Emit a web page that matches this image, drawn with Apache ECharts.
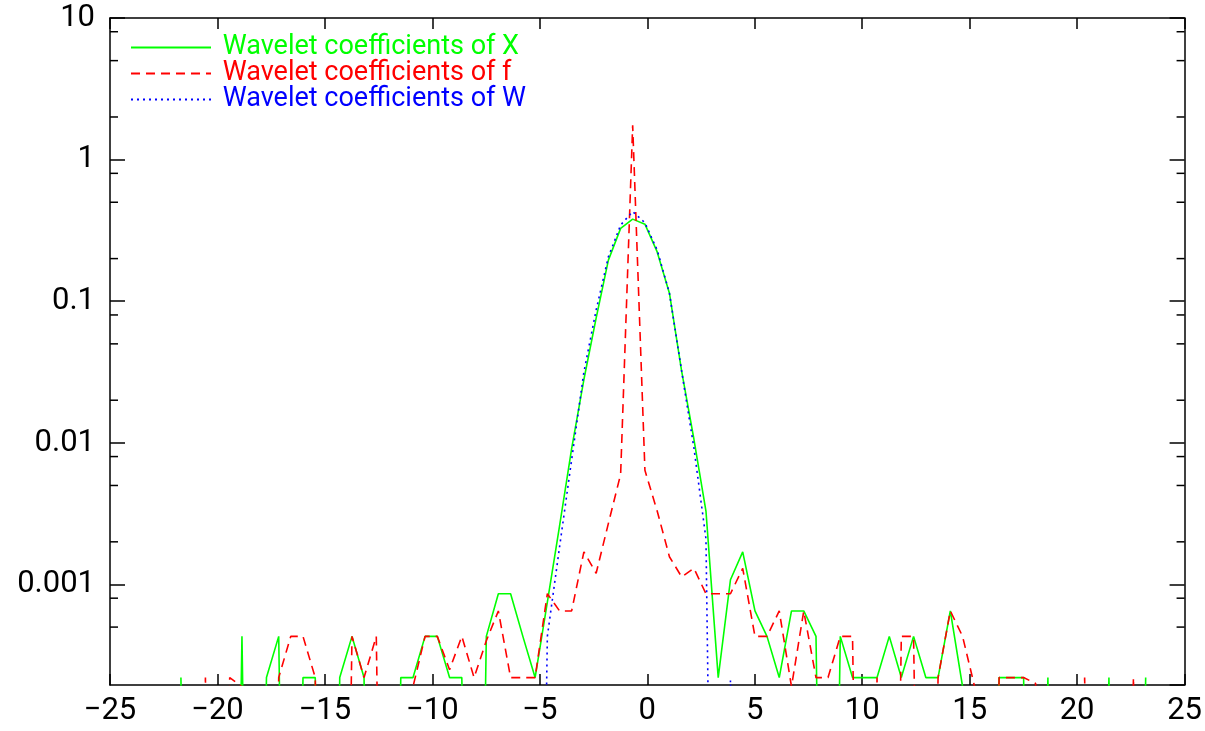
<!DOCTYPE html>
<html>
<head>
<meta charset="utf-8">
<script src="https://cdn.jsdelivr.net/npm/echarts@6/dist/echarts.min.js"></script>
<style>
  html, body { margin: 0; padding: 0; background: #fff; }
</style>
</head>
<body>
<div id="container" style="width: 1205px;height:731px;"></div>
<script>
  // sample positions (x) shared by the three curves
  var xs = [
    -21.70, -21.13, -20.56, -20.00, -19.43, -18.86, -18.29, -17.72, -17.15, -16.59,
    -16.02, -15.45, -14.88, -14.31, -13.74, -13.18, -12.61, -12.04, -11.47, -10.90,
    -10.34, -9.77, -9.20, -8.63, -8.06, -7.49, -6.93, -6.36, -5.79, -5.22,
    -4.65, -4.08, -3.52, -2.95, -2.38, -1.81, -1.24, -0.68, -0.11, 0.46,
    1.03, 1.60, 2.17, 2.73, 3.30, 3.87, 4.44, 5.01, 5.57, 6.14,
    6.71, 7.28, 7.85, 8.41, 8.98, 9.55, 10.12, 10.69, 11.26, 11.82,
    12.39, 12.96, 13.53, 14.10, 14.67, 15.23, 15.80, 16.37, 16.94, 17.51,
    18.07, 18.64, 19.21, 19.78, 20.35, 20.92, 21.48, 22.05, 22.62, 23.19
  ];

  // Wavelet coefficients of X (green, solid)
  var coefX = [
    0.00022, 0, 0, 0, 0, 0.00043, 0, 0.00022, 0.00043, 0,
    0.00022, 0.00022, 0, 0.00022, 0.00043, 0.00022, 0, 0, 0.00022, 0.00022,
    0.00043, 0.00043, 0.00022, 0.00022, 0, 0.00043, 0.00086, 0.00086, 0.00043, 0.00022,
    0.00075, 0.0026, 0.0091, 0.028, 0.076, 0.195, 0.327, 0.38, 0.35, 0.223,
    0.114, 0.032, 0.0106, 0.0033, 0.00022, 0.00108, 0.0017, 0.00065, 0.00043, 0.00022,
    0.00065, 0.00065, 0.00043, 0, 0.00043, 0.00022, 0.00022, 0.00022, 0.00043, 0.00022,
    0.00043, 0.00022, 0.00022, 0.00065, 0.00019, 0, 0, 0.00022, 0.00022, 0.00022,
    0, 0.00022, 0, 0, 0, 0, 0.00022, 0, 0, 0.00022
  ];

  // Wavelet coefficients of f (red, dashed)
  var coefF = [
    0, 0, 0.00022, 0, 0.00022, 0.00019, 0, 0, 0.00022, 0.00043,
    0.00043, 0.00022, 0, 0, 0.00043, 0.00022, 0.00043, 0, 0, 0.00019,
    0.00043, 0.00043, 0.00025, 0.00043, 0.00022, 0.0004, 0.00065, 0.00022, 0.00022, 0.00022,
    0.00086, 0.00065, 0.00065, 0.0017, 0.0012, 0.0027, 0.006, 1.75, 0.0064, 0.0033,
    0.00157, 0.00113, 0.0013, 0.00086, 0.00086, 0.00086, 0.0013, 0.00043, 0.00043, 0.00065,
    0.00019, 0.00065, 0.00022, 0.00022, 0.00043, 0.00043, 0, 0.00022, 0, 0.00043,
    0.00043, 0, 0.00022, 0.00065, 0.00043, 0.00019, 0, 0.00022, 0.00022, 0.00022,
    0.0002, 0, 0, 0, 0.00022, 0, 0, 0, 0.00022, 0
  ];

  // Wavelet coefficients of W (blue, dotted)
  var coefW = [
    0, 0, 0, 0, 0, 0, 0, 0, 0, 0,
    0, 0, 0, 0, 0, 0, 0, 0, 0, 0,
    0, 0, 0, 0, 0, 0, 0, 0, 0, 0,
    0.00043, 0.00185, 0.0076, 0.0316, 0.0866, 0.206, 0.345, 0.43, 0.358, 0.23,
    0.114, 0.032, 0.0092, 0.0021, 0, 0.00021, 0, 0, 0, 0,
    0, 0, 0, 0, 0, 0, 0, 0, 0, 0,
    0, 0, 0, 0, 0, 0, 0, 0, 0, 0,
    0, 0, 0, 0, 0, 0, 0, 0, 0, 0
  ];

  var seriesNames = ['Wavelet coefficients of X', 'Wavelet coefficients of f', 'Wavelet coefficients of W'];
  var seriesColors = ['#00ff00', '#ff0000', '#0000ff'];

  // small tick marks between decades on the log axis
  var minorTickValues = [8, 5, 2, 0.8, 0.5, 0.2, 0.08, 0.05, 0.02, 0.008, 0.005, 0.002, 0.0008, 0.0005];

  var FONT = 'Roboto, "Liberation Sans", Arial, sans-serif';
  // zero coefficients cannot sit on a log axis: push them far below the plot
  var FLOOR = 1e-9;

  function pairs(vals) {
    return xs.map(function (x, i) { return [x, vals[i] > 0 ? vals[i] : FLOOR]; });
  }

  var myChart = echarts.init(document.getElementById('container'));

  var axisLine = {show: true, onZero: false, lineStyle: {color: '#000', width: 1.5}};

  myChart.setOption({
    animation: false,
    backgroundColor: '#fff',
    grid: {left: 110, right: 18, top: 18, bottom: 46, containLabel: false},
    legend: {
      orient: 'vertical',
      left: 130,
      top: 34,
      padding: 0,
      itemWidth: 80,
      itemHeight: 14,
      itemGap: -1,
      itemStyle: {opacity: 0},
      formatter: ' {name}',
      data: seriesNames.map(function (n, i) {
        return {name: n, textStyle: {color: seriesColors[i]}};
      }),
      textStyle: {fontFamily: FONT, fontSize: 27, lineHeight: 26}
    },
    xAxis: [
      {
        type: 'value', min: -25, max: 25, interval: 5, position: 'bottom',
        axisLine: axisLine,
        axisTick: {inside: true, length: 11, lineStyle: {color: '#000', width: 1.5}},
        splitLine: {show: false},
        axisLabel: {
          color: '#000', fontFamily: FONT, fontSize: 31, margin: 11,
          formatter: function (v) { return String(v).replace('-', '\u2212'); }
        }
      },
      {
        type: 'value', min: -25, max: 25, interval: 5, position: 'top',
        axisLine: axisLine,
        axisTick: {inside: true, length: 11, lineStyle: {color: '#000', width: 1.5}},
        splitLine: {show: false},
        axisLabel: {show: false}
      }
    ],
    yAxis: [
      {
        type: 'log', logBase: 10, min: 0.000195, max: 10, position: 'left',
        axisLine: axisLine,
        axisTick: {inside: true, length: 15, lineStyle: {color: '#000', width: 1.5}},
        splitLine: {show: false},
        axisLabel: {
          color: '#000', fontFamily: FONT, fontSize: 31, margin: 15,
          showMinLabel: false,
          formatter: function (v) { return String(+v.toPrecision(3)); }
        }
      },
      {
        type: 'log', logBase: 10, min: 0.000195, max: 10, position: 'right',
        axisLine: axisLine,
        axisTick: {inside: true, length: 15, lineStyle: {color: '#000', width: 1.5}},
        splitLine: {show: false},
        axisLabel: {show: false}
      }
    ],
    series: seriesNames.map(function (n, i) {
      return {
        name: n,
        type: 'line',
        xAxisIndex: 0,
        yAxisIndex: 0,
        showSymbol: false,
        symbol: 'none',
        clip: true,
        color: seriesColors[i],
        lineStyle: {
          color: seriesColors[i],
          width: 1.6,
          type: i === 0 ? 'solid' : (i === 1 ? [9, 6] : [2, 4])
        },
        data: pairs([coefX, coefF, coefW][i])
      };
    }).concat([{
      name: 'minor ticks',
      type: 'custom',
      xAxisIndex: 0,
      yAxisIndex: 0,
      silent: true,
      data: minorTickValues,
      renderItem: function (params, api) {
        var y = api.value(0);
        var l = api.coord([-25, y]);
        var r = api.coord([25, y]);
        var style = {stroke: '#000', lineWidth: 1.5};
        return {
          type: 'group',
          children: [
            {type: 'line', shape: {x1: l[0], y1: l[1], x2: l[0] + 8, y2: l[1]}, style: style},
            {type: 'line', shape: {x1: r[0] - 8, y1: r[1], x2: r[0], y2: r[1]}, style: style}
          ]
        };
      },
      encode: {y: 0}
    }])
  });
</script>
</body>
</html>
